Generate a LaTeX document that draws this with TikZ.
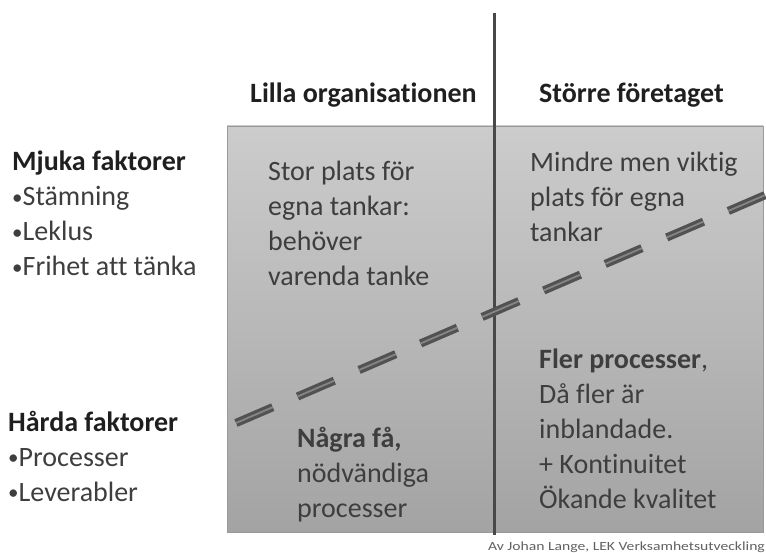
\documentclass[tikz,border=0pt]{standalone}
\usepackage{fontspec}
\setmainfont{Carlito}[Ligatures={TeX,NoCommon}]
\usetikzlibrary{positioning}

\definecolor{textgray}{RGB}{62,62,62}
\definecolor{linegray}{RGB}{72,72,72}
\newcommand{\listdot}{{\fontsize{21}{35}\selectfont\raisebox{1.5pt}{•}}}

\begin{document}
\begin{tikzpicture}[
  x=1pt,y=-1pt,
  heading/.style={anchor=base west,inner sep=0pt,align=left,text=black!88,
    font=\bfseries\fontsize{28}{35}\selectfont},
  bodytext/.style={anchor=base west,inner sep=0pt,align=left,text=textgray,
    font=\fontsize{28}{35}\selectfont},
  field/.style={draw=black!40,line width=.8pt,top color=black!20,bottom color=black!36,
    minimum width=536pt,minimum height=406pt,inner sep=0pt},
  cutline/.style={draw=black!68,line width=3.2pt,double=black!48,double distance=1.8pt,
    dash pattern=on 40pt off 27pt}
]
  \useasboundingbox (0,0) rectangle (766,553);

  \node[field] (field) at (495,329) {};

  \coordinate (divtop) at (494,13);
  \coordinate (divbot) at (494,535);
  \draw[linegray,line width=3pt] (divtop) -- (divbot);

  \coordinate (cutlow) at (236,423);
  \coordinate (cuthigh) at (770,193);
  \draw[cutline] (cutlow) -- (cuthigh);

  \node[heading] (lilla) at (250,103) {Lilla organisationen};
  \node[heading] (storre) at (539,103) {Större företaget};

  % multi-line nodes sit on their last baseline
  \node[bodytext] (mjuka) at (12,276)
    {\textcolor{black!88}{\bfseries Mjuka faktorer}\\\listdot Stämning\\\listdot Leklus\\\listdot Frihet att tänka};
  \node[bodytext] (harda) at (8,501)
    {\textcolor{black!88}{\bfseries Hårda faktorer}\\\listdot Processer\\\listdot Leverabler};

  \node[bodytext] (storplats) at (268,286)
    {Stor plats för\\egna tankar:\\behöver\\varenda tanke};
  \node[bodytext] (mindre) at (530,242)
    {Mindre men viktig\\plats för egna\\tankar};
  \node[bodytext] (nagra) at (297,517)
    {\textbf{Några få,}\\nödvändiga\\processer};
  \node[bodytext] (fler) at (539,508)
    {\textbf{Fler processer},\\Då fler är\\inblandade.\\+ Kontinuitet\\Ökande kvalitet};

  \node[anchor=base east,inner sep=0pt,text=black!62,font=\fontsize{12.5}{14}\selectfont]
    (credit) at (765,550) {\scalebox{1.25}[1]{Av Johan Lange, LEK Verksamhetsutveckling}};
\end{tikzpicture}
\end{document}
